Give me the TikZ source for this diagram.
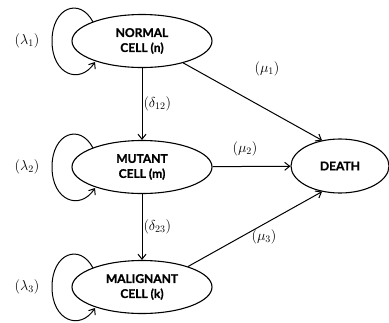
\documentclass[tikz,border=0pt]{standalone}
\usepackage{fontspec}
\newfontfamily\nodefont[BoldFeatures={FakeBold=1.2}]{Lato}
\usetikzlibrary{arrows.meta,shapes.geometric}
\begin{document}
\begin{tikzpicture}[x=1pt,y=-1pt,
  state/.style={draw, line width=1.1pt, ellipse, minimum width=#1, minimum height=53pt, inner sep=0pt, align=center, font=\nodefont\bfseries\fontsize{12}{15}\selectfont},
  state/.default=140pt,
  arr/.style={-{Straight Barb[length=5pt,width=8pt]}, line width=1pt},
  lab/.style={font=\fontsize{14}{16}\selectfont, inner sep=1pt}]
\useasboundingbox (0,0) rectangle (389,322);
\node[state] (n) at (142,41) {NORMAL\\CELL (n)};
\node[state] (m) at (142,167) {MUTANT\\CELL (m)};
\node[state] (k) at (142,287) {MALIGNANT\\CELL (k)};
\node[state=98pt, minimum height=54pt] (d) at (340,166) {DEATH};
\draw[arr] (n) -- (m) node[lab, midway, right] {$(\delta_{12})$};
\draw[arr] (m) -- (k) node[lab, midway, right] {$(\delta_{23})$};
\draw[arr] (n.-28) -- (d.125);
\draw[arr] (m) -- (d);
\draw[arr] (k.24) -- (d.-125);
\node[lab] (mu1) at (267,69) {$(\mu_1)$};
\node[lab] (mu2) at (245,149) {$(\mu_2)$};
\node[lab] (mu3) at (264,237) {$(\mu_3)$};
\foreach \s/\i in {n/1,m/2,k/3}{
  \draw[arr] ([shift={(-49,-19)}]\s.center) .. controls ([shift={(-62,-44)}]\s.center) and ([shift={(-90,-34)}]\s.center) .. ([shift={(-90,0)}]\s.center)
     .. controls ([shift={(-90,34)}]\s.center) and ([shift={(-62,44)}]\s.center) .. ([shift={(-47,21)}]\s.center);
  \node[lab] (l\i) at ([xshift=-115pt]\s.center) {$(\lambda_\i)$};
}
\end{tikzpicture}
\end{document}
